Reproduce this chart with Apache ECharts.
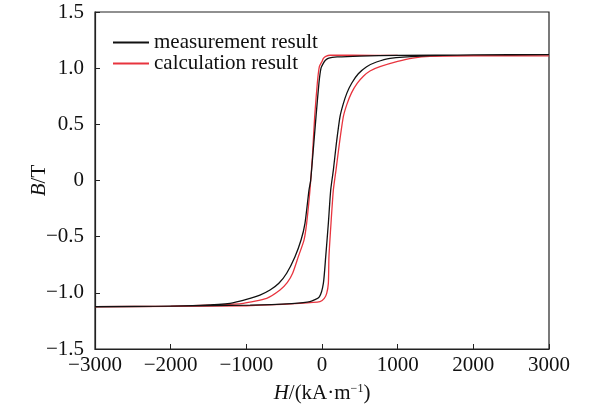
<!DOCTYPE html>
<html>
<head>
<meta charset="utf-8">
<script src="https://cdn.jsdelivr.net/npm/echarts@6/dist/echarts.min.js"></script>
<style>html,body{margin:0;padding:0;background:#fff;}#c{width:590px;height:410px;}</style>
</head>
<body>
<div id="c"></div>
<script>
// H in kA/m, B in T
var seriesNames = ['measurement result', 'calculation result'];
var xTicks = [-3000, -2000, -1000, 0, 1000, 2000, 3000];
var yTicks = [-1.5, -1.0, -0.5, 0, 0.5, 1.0, 1.5];

// measurement: descending branch (from +H to -H)
var measDownH = [3000, 2000, 1000, 500, 200, 90, 45, 15, -13, -40, -79, -112, -150, -172, -225, -277, -357, -467, -570, -687, -820, -951, -1215, -1612, -2200, -3000];
var measDownB = [1.12, 1.118, 1.113, 1.108, 1.10, 1.09, 1.07, 1.04, 1.00, 0.87, 0.57, 0.30, 0.0, -0.085, -0.381, -0.53, -0.678, -0.826, -0.915, -0.975, -1.02, -1.049, -1.094, -1.112, -1.12, -1.124];
// measurement: ascending branch (from -H to +H)
var measUpH = [-3000, -2000, -950, -400, -159, -35, 18, 49, 84, 115, 150, 190, 238, 280, 330, 392, 480, 590, 720, 900, 1300, 2000, 3000];
var measUpB = [-1.124, -1.118, -1.11, -1.096, -1.079, -1.035, -0.916, -0.678, -0.381, -0.085, 0.093, 0.33, 0.568, 0.68, 0.78, 0.866, 0.95, 1.013, 1.055, 1.088, 1.108, 1.118, 1.12];

// calculation: descending branch
var calcDownH = [3000, 2000, 1000, 400, 106, 50, 18, 0, -35, -62, -97, -128, -159, -203, -238, -313, -388, -460, -555, -731, -1040, -1400, -2000, -3000];
var calcDownB = [1.11, 1.112, 1.113, 1.115, 1.115, 1.105, 1.088, 1.06, 1.013, 0.866, 0.568, 0.2, -0.085, -0.381, -0.53, -0.678, -0.826, -0.91, -0.975, -1.049, -1.094, -1.108, -1.118, -1.124];
// calculation: ascending branch
var calcUpH = [-3000, -2000, -1000, -300, -26, 30, 62, 84, 92, 119, 150, 185, 230, 282, 330, 390, 467, 550, 634, 766, 1000, 1200, 1427, 2000, 3000];
var calcUpB = [-1.124, -1.12, -1.115, -1.094, -1.079, -1.05, -1.005, -0.916, -0.678, -0.381, -0.085, 0.093, 0.33, 0.568, 0.68, 0.78, 0.866, 0.93, 0.975, 1.013, 1.06, 1.09, 1.105, 1.11, 1.11];

function pairs(hs, bs) { return hs.map(function (h, i) { return [h, bs[i]]; }); }
function loop(dh, db, uh, ub) { return pairs(dh, db).concat(pairs(uh, ub).slice(1)); }

function fmt(v) {
  var s;
  if (Math.abs(v) < 1e-9) return '0';
  if (Math.abs(v) < 10) s = Math.abs(v).toFixed(1); else s = String(Math.abs(v));
  return (v < 0 ? '\u2212' : '') + s;
}

var FONT = '"Liberation Serif", "Times New Roman", serif';
var FS = 21;
var chart = echarts.init(document.getElementById('c'), null, { renderer: 'canvas' });
chart.setOption({
  animation: false,
  backgroundColor: '#fff',
  grid: { left: 95, right: 41, top: 12, bottom: 61, show: true, borderColor: '#222', borderWidth: 1.2, backgroundColor: 'transparent' },
  legend: {
    orient: 'vertical', left: 108, top: 27, itemGap: 0, itemWidth: 36, itemHeight: 2,
    icon: 'rect',
    textStyle: { fontFamily: FONT, fontSize: FS, color: '#111' },
    data: seriesNames
  },
  xAxis: {
    type: 'value', min: -3000, max: 3000, interval: 1000,
    name: '{i|H}/(kA\u00b7m{s|\u22121})', nameLocation: 'middle', nameGap: 34, nameMoveOverlap: false,
    nameTextStyle: { fontFamily: FONT, fontSize: FS, color: '#111',
      rich: { i: { fontFamily: FONT, fontStyle: 'italic', fontSize: FS, color: '#111' },
              s: { fontFamily: FONT, fontSize: 12, color: '#111', verticalAlign: 'top', padding: [0, 0, 9, 0] } } },
    axisLine: { show: true, onZero: false, lineStyle: { color: '#222', width: 1.2 } },
    axisTick: { show: true, inside: true, length: 5, lineStyle: { color: '#222' } },
    axisLabel: { fontFamily: FONT, fontSize: FS, color: '#111', margin: 6, formatter: fmt },
    splitLine: { show: false }
  },
  yAxis: {
    type: 'value', min: -1.5, max: 1.5, interval: 0.5,
    name: '{i|B}/T', nameLocation: 'middle', nameGap: 45, nameRotate: 90, nameMoveOverlap: false,
    nameTextStyle: { fontFamily: FONT, fontSize: FS, color: '#111',
      rich: { i: { fontFamily: FONT, fontStyle: 'italic', fontSize: FS, color: '#111' } } },
    axisLine: { show: true, onZero: false, lineStyle: { color: '#222', width: 1.2 } },
    axisTick: { show: true, inside: true, length: 5, lineStyle: { color: '#222' } },
    axisLabel: { fontFamily: FONT, fontSize: FS, color: '#111', margin: 11, formatter: fmt },
    splitLine: { show: false }
  },
  series: [
    { name: seriesNames[0], type: 'line', data: loop(measDownH, measDownB, measUpH, measUpB),
      showSymbol: false, smooth: 0.2, color: '#111', lineStyle: { color: '#111', width: 1.3 }, z: 3 },
    { name: seriesNames[1], type: 'line', data: loop(calcDownH, calcDownB, calcUpH, calcUpB),
      showSymbol: false, smooth: 0.2, color: '#e8343e', lineStyle: { color: '#e8343e', width: 1.3 }, z: 2 }
  ]
});
</script>
</body>
</html>
